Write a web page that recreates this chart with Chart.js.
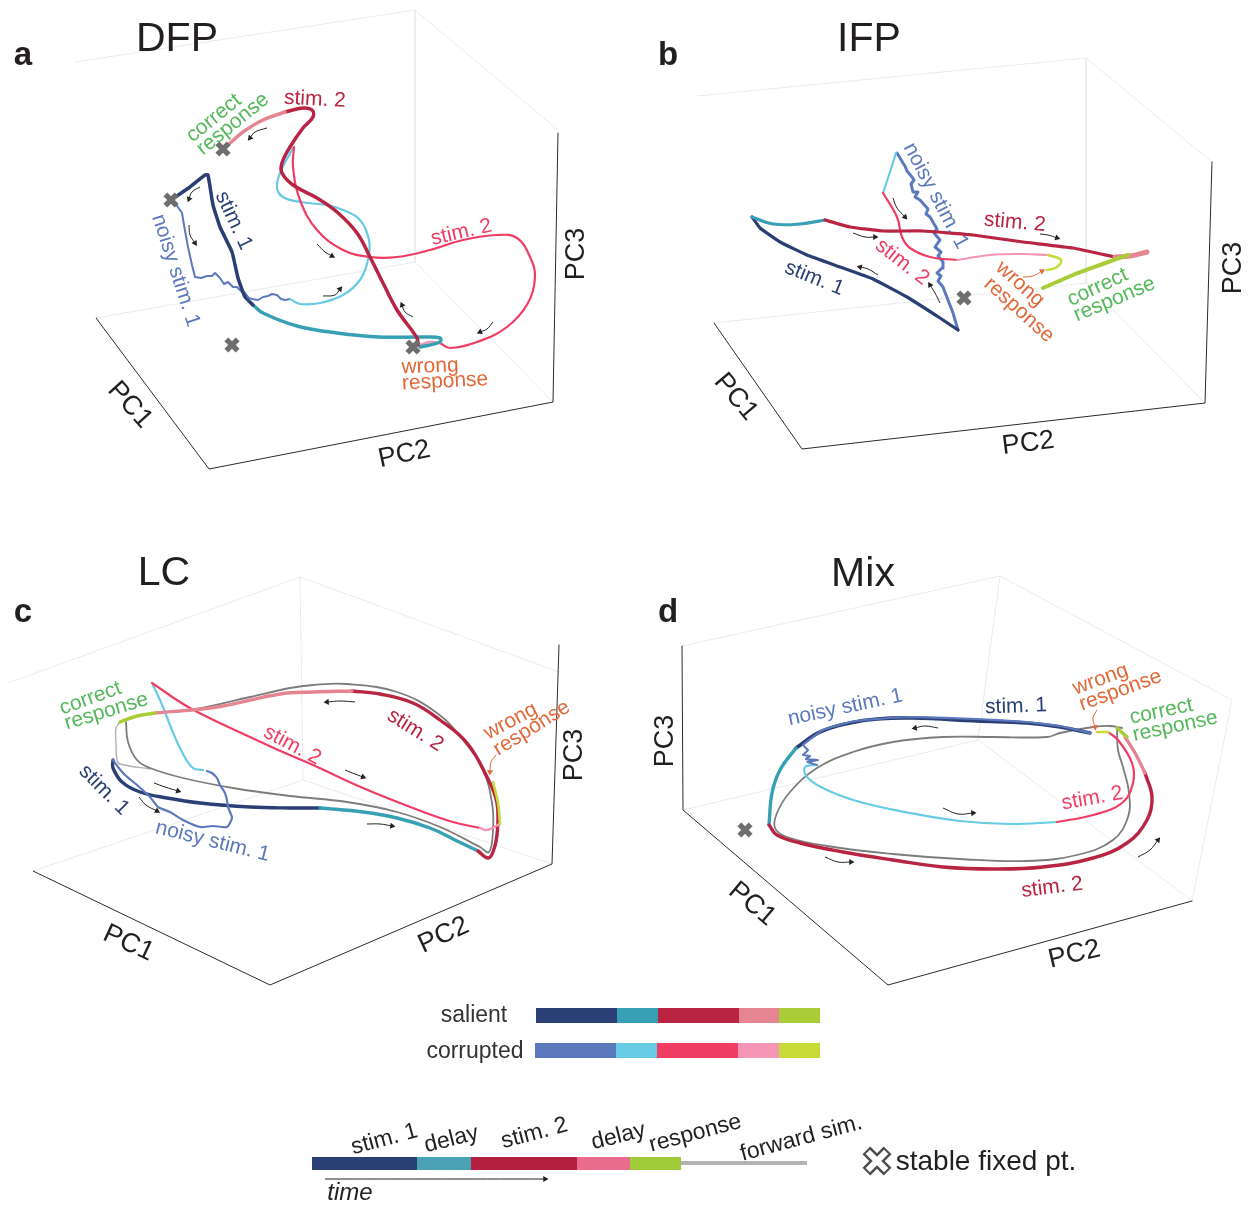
<!DOCTYPE html>
<html>
<head>
<meta charset="utf-8">
<title>Trajectories</title>
<script src="https://cdn.jsdelivr.net/npm/chart.js@4"></script>
<style>
  html, body { margin: 0; padding: 0; background: #fff; }
  canvas { display: block; }
</style>
</head>
<body>
<canvas id="fig" width="1249" height="1205"></canvas>
<script>
// colours for the task epochs
const SAL = ['#2a3f73', '#37a0b5', '#b82441', '#e58592', '#a9cc37'];
const COR = ['#5d79bd', '#67cbe6', '#f03d63', '#f595b6', '#c8da38'];
const TIMELINE = ['#2a3f73', '#4aa3b5', '#b51f40', '#e96c8d', '#a0cc3a'];
const GREEN = '#55b85a', ORANGE = '#e0693a', INK = '#231f20', GREY = '#7d7d7d', BOX = '#ebebeb';

// ---- panel a, DFP ----
const aStim1 = [[171,200],[190,187],[205,175],[208,175],[213,205],[220,227],[232,252],[238,278],[245,297],[253,305]];
const aDelay = [[253,305],[263,313],[297,326],[337,333],[380,337],[425,337],[440,338],[440,342],[420,347]];
const aStim2 = [[418,345],[417,338],[397,310],[383,283],[370,257],[357,233],[337,212],[317,198],[293,185],[282,173],[282,163],[290,147],[303,128],[313,117],[312,110],[303,108],[285,112]];
const aResp = [[285,112],[263,120],[243,132],[229,144]];
const aNoisy = [[175,203],[182,213],[184,225],[188,247],[192,265],[195,277],[201,278],[207,276],[212,276],[215,273],[220,278],[224,284],[228,282],[233,287],[237,287],[241,291],[245,293],[249,298],[252,299],[258,300],[263,297],[268,296],[272,294],[277,295],[281,299],[285,300],[290,299]];
const aCyan = [[290,299],[300,304],[320,303],[343,295],[360,280],[368,260],[369,240],[360,220],[343,210],[327,205],[300,202],[283,197],[277,188],[280,173],[293,148]];
const aRed = [[294,147],[293,167],[300,200],[317,230],[343,250],[370,257],[397,257],[430,250],[463,240],[497,235],[517,238],[530,257],[535,277],[528,303],[507,327],[477,342],[450,348],[440,343]];
const aPink = [[440,343],[430,342],[420,345]];
const aFixed = [[223,149],[171,200],[232,345],[413,347]];

// ---- panel b, IFP ----
const bStim1 = [[958,330],[940,318],[907,297],[873,279],[840,267],[807,255],[780,242],[760,228],[752,217]];
const bDelay = [[752,217],[773,224],[800,224],[825,220]];
const bStim2 = [[825,220],[850,227],[883,231],[923,231],[973,235],[1023,242],[1073,248],[1115,257]];
const bPink = [[1115,257],[1130,256],[1147,252]];
const bResp = [[1128,255],[1100,265],[1073,275],[1043,288]];
const bNoisy = [[958,330],[953,313],[948,300],[943,287],[938,281],[941,276],[937,273],[942,268],[943,262],[938,256],[941,252],[935,247],[940,240],[934,233],[937,229],[930,217],[926,214],[928,209],[920,200],[915,197],[918,192],[913,192],[911,184],[914,180],[912,177],[907,171],[905,166],[903,163],[897,153]];
const bCyan = [[896,153],[890,172],[883,193]];
const bRed = [[883,193],[897,217],[902,237],[910,248],[930,257],[957,260]];
const bPink2 = [[957,260],[990,255],[1023,254],[1048,255]];
const bYellow = [[1048,255],[1061,260],[1057,267],[1047,270]];
const bFixed = [[964,298]];

// ---- panel c, LC ----
const cStim1 = [[113,760],[113,768],[122,782],[140,792],[167,798],[200,803],[250,807],[290,808],[320,808]];
const cDelay = [[320,808],[363,812],[397,818],[430,828],[455,840],[478,851]];
const cStim2 = [[478,851],[488,858],[493,852],[497,835],[497,803],[487,777],[467,743],[440,720],[413,703],[380,694],[352,691]];
const cPink = [[352,691],[313,692],[280,694],[217,707],[155,713]];
const cResp = [[155,713],[137,716],[120,722]];
const cForward = [[126,722],[128,742],[137,760],[150,768],[183,778],[233,788],[290,796],[347,802],[397,812],[440,827],[480,847],[489,852],[493,830],[492,803],[483,770],[463,740],[437,713],[397,692],[347,684],[313,685],[290,688],[250,697],[190,710],[155,713]];
const cForward2 = [[120,722],[116,728],[116,743],[117,760],[120,764],[150,769]];
const cNoisy = [[113,760],[118,767],[125,775],[137,785],[150,797],[158,807],[170,812],[183,820],[200,827],[213,826],[227,827],[232,818],[230,812],[228,807],[227,800],[225,793],[220,785],[217,778],[212,773],[207,771]];
const cCyan = [[203,770],[193,768],[182,752],[172,730],[163,707],[153,685]];
const cRed = [[152,683],[190,708],[250,737],[285,753],[313,765],[363,788],[413,808],[453,822],[480,828]];
const cPink2 = [[480,828],[487,830],[500,824]];
const cYellow = [[500,824],[498,803],[493,782]];

// ---- panel d, Mix ----
const dStim1 = [[1090,733],[1060,727],[1027,723],[977,721],[913,718],[877,719],[850,723],[820,732],[796,748]];
const dDelay = [[796,748],[780,770],[772,793],[769,825]];
const dStim2 = [[769,825],[777,835],[800,843],[843,852],[893,860],[943,867],[993,869],[1043,867],[1093,858],[1127,843],[1147,820],[1152,797],[1145,773]];
const dPink = [[1145,773],[1135,753],[1125,737]];
const dResp = [[1127,737],[1117,728]];
const dForward = [[1117,728],[1118,750],[1123,767],[1129,793],[1128,817],[1113,840],[1077,855],[1027,861],[960,859],[893,854],[827,846],[787,837],[775,828],[777,813],[790,792],[817,768],[853,752],[893,742],[943,737],[993,737],[1047,737],[1060,733],[1093,727],[1110,726],[1122,728]];
const dNoisy = [[1090,733],[1060,726],[1027,722],[977,719],[913,717],[877,719],[850,722],[823,730],[803,745],[808,750],[803,755],[810,756],[806,759],[818,760],[807,762],[817,765]];
const dCyan = [[815,765],[805,767],[807,777],[827,790],[860,802],[910,813],[960,821],[1010,824],[1057,822]];
const dRed = [[1057,822],[1093,815],[1122,803],[1133,783],[1132,763],[1118,740],[1108,732]];
const dPink2 = [[1108,732],[1105,732]];
const dYellow = [[1108,732],[1097,732]];
const dFixed = [[745,830]];

// box edges, black then faint
const blackEdges = [
  [[96,318],[209,469],[553,402],[558,133]],
  [[714,323],[802,449],[1205,403],[1212,162]],
  [[33,871],[270,985],[552,864],[559,645]],
  [[682,646],[683,810],[888,985],[1192,901]]
];
const faintEdges = [
  [[75,62],[415,10],[558,130]], [[415,10],[415,262]], [[96,318],[415,262],[553,402]],
  [[697,96],[1086,58],[1212,162]], [[1086,58],[1086,283]], [[714,323],[1086,283],[1205,403]],
  [[8,683],[300,577],[559,672]], [[300,577],[303,780]], [[33,871],[303,780],[552,864]],
  [[682,646],[1000,576],[1232,700],[1192,901]], [[1000,576],[978,740]], [[683,810],[978,740],[1192,901]]
];

// little direction arrows
const blackArrows = [
  [[267,128],[255,132],[250,138]], [[200,187],[192,192],[189,199]], [[189,225],[190,235],[195,243]],
  [[317,244],[325,252],[332,256]], [[323,296],[335,295],[340,289]], [[413,317],[405,312],[402,305]], [[493,322],[487,329],[480,332]],
  [[893,198],[897,208],[905,217]], [[853,233],[865,237],[875,237]], [[878,275],[868,269],[860,267]], [[940,303],[935,293],[930,285]], [[1040,234],[1048,235],[1057,238]],
  [[154,783],[165,787],[178,791]], [[139,797],[146,805],[157,811]], [[355,702],[340,701],[327,702]], [[345,770],[355,774],[363,777]], [[367,824],[380,824],[392,826]],
  [[938,728],[925,726],[915,728]], [[943,808],[958,814],[973,813]], [[825,857],[838,862],[851,862]], [[1138,857],[1150,850],[1158,840]],
  [[325,1179],[430,1179],[545,1179]]
];
const orangeArrows = [
  [[1023,277],[1033,276],[1042,271]],
  [[496,755],[491,762],[490,772]],
  [[1097,710],[1093,718],[1095,727]]
];

// bars
const salientStops = [536,617,658,739,779,820];
const corruptedStops = [535,616,657,738,779,820];
const timelineStops = [312,417,471,577,630,681];
const forwardStops = [681,807];

const datasets = [];
function line(points, color, width, tension) {
  datasets.push({
    data: points, borderColor: color, borderWidth: width, tension: tension === undefined ? 0.4 : tension,
    showLine: true, pointRadius: 0, borderCapStyle: 'round', borderJoinStyle: 'round', order: -datasets.length
  });
}
function arrow(points, color) {
  const a = points[points.length - 2], b = points[points.length - 1];
  const rot = Math.atan2(b[1] - a[1], b[0] - a[0]) * 180 / Math.PI + 90;
  datasets.push({
    data: points, borderColor: color, backgroundColor: color, borderWidth: 1, tension: 0.4, showLine: true,
    pointStyle: 'triangle', pointRotation: rot, pointBorderWidth: 0,
    pointRadius: points.map((p, i) => i === points.length - 1 ? 3.5 : 0), order: -datasets.length
  });
}
function fixedPts(points) {
  datasets.push({
    data: points, showLine: false, pointStyle: 'crossRot', pointRadius: 8, pointBorderWidth: 5.5,
    pointBorderColor: '#6e6e6e', order: -datasets.length
  });
}
function bar(stops, y, colors, width) {
  for (let i = 0; i < stops.length - 1; i++) {
    datasets.push({
      data: [[stops[i], y], [stops[i + 1], y]], borderColor: colors[i], borderWidth: width, showLine: true,
      pointRadius: 0, borderCapStyle: 'butt', order: -datasets.length
    });
  }
}

faintEdges.forEach(e => line(e, BOX, 1, 0));
blackEdges.forEach(e => line(e, '#2b2b2b', 1, 0));

// a
line(aNoisy, COR[0], 2, 0); line(aCyan, COR[1], 2.2); line(aRed, COR[2], 2.2); line(aPink, COR[3], 2.5);
line(aDelay, SAL[1], 3.5); line(aStim1, SAL[0], 3.5, 0.12); line(aStim2, SAL[2], 3.5); line(aResp, SAL[3], 3.5);
// b
line(bNoisy, COR[0], 3, 0); line(bCyan, COR[1], 2.2, 0); line(bRed, COR[2], 2.2); line(bPink2, COR[3], 2.2); line(bYellow, COR[4], 2.5);
line(bStim1, SAL[0], 3.2, 0.1); line(bDelay, SAL[1], 3.2); line(bStim2, SAL[2], 3.2, 0.1);
line(bPink, SAL[3], 5); line(bResp, SAL[4], 4, 0.2);
// c
line(cForward2, '#b0b0b0', 1.4); line(cForward, GREY, 1.8);
line(cCyan, COR[1], 2.2); line(cRed, COR[2], 2.2);
line(cStim1, SAL[0], 3.4); line(cDelay, SAL[1], 3.4); line(cStim2, SAL[2], 3.4); line(cPink, SAL[3], 3.4); line(cResp, SAL[4], 3.4);
line(cPink2, COR[3], 2.5); line(cYellow, COR[4], 2.6); line(cNoisy, COR[0], 2.2, 0.2);
// d
line(dForward, GREY, 1.8);
line(dCyan, COR[1], 2.2); line(dRed, COR[2], 2.2); line(dPink2, COR[3], 2.2); line(dYellow, COR[4], 2.6);
line(dStim1, SAL[0], 3.6); line(dNoisy, COR[0], 2.2, 0.1); line(dDelay, SAL[1], 3.4); line(dStim2, SAL[2], 3.4); line(dPink, SAL[3], 3.4); line(dResp, SAL[4], 3.4);

blackArrows.forEach(a => arrow(a, '#222'));
orangeArrows.forEach(a => arrow(a, ORANGE));
fixedPts(aFixed); fixedPts(bFixed); fixedPts(dFixed);

bar(salientStops, 1015.5, SAL, 15);
bar(corruptedStops, 1050.5, COR, 15);
bar(forwardStops, 1163, ['#b3b3b3'], 4);
bar(timelineStops, 1163.5, TIMELINE, 13);

// legend cross: dark outline with a white core
datasets.push({ data: [[877,1161]], showLine: false, pointStyle: 'crossRot', pointRadius: 15, pointBorderWidth: 11, pointBorderColor: '#4d4d4d', order: -datasets.length });
datasets.push({ data: [[877,1161]], showLine: false, pointStyle: 'crossRot', pointRadius: 13, pointBorderWidth: 6, pointBorderColor: '#ffffff', order: -datasets.length });

// text, placed through the same scales
const texts = [];
function label(str, x, y, rot, size, color, style) {
  texts.push({ str, x, y, rot, size, color, style: style || '' });
}
const LAB = 21;
['a','b','c','d'].forEach((l, i) => label(l, [23,668,23,668][i], [54,54,611,611][i], 0, 33, INK, 'bold'));
label('DFP', 177, 38, 0, 41, INK); label('IFP', 869, 38, 0, 41, INK);
label('LC', 164, 572, 0, 41, INK); label('Mix', 863, 573, 0, 41, INK);

label('PC1', 131, 404, 48, 27, INK); label('PC2', 404, 453, -12, 27, INK); label('PC3', 575, 254, -90, 27, INK);
label('PC1', 737, 396, 50, 27, INK); label('PC2', 1028, 442, -7, 27, INK); label('PC3', 1232, 268, -90, 27, INK);
label('PC1', 129, 942, 25, 27, INK); label('PC2', 443, 934, -25, 27, INK); label('PC3', 573, 755, -90, 27, INK);
label('PC3', 664, 741, -90, 27, INK); label('PC1', 753, 903, 40, 27, INK); label('PC2', 1074, 953, -13, 27, INK);

label('correct', 213, 117, -39, LAB, GREEN); label('response', 232, 123, -39, LAB, GREEN);
label('stim. 2', 315, 98, 3, LAB, SAL[2]); label('stim. 1', 235, 220, 65, LAB, SAL[0]);
label('noisy stim. 1', 177, 270, 72, LAB, COR[0]); label('stim. 2', 461, 231, -13, LAB, COR[2]);
label('wrong', 430, 365, -2, LAB, ORANGE); label('response', 445, 380, -3, LAB, ORANGE);

label('noisy stim. 1', 937, 195, 62, LAB, COR[0]); label('stim. 2', 1015, 221, 5, LAB, SAL[2]);
label('stim. 2', 903, 261, 38, LAB, COR[2]); label('stim. 1', 815, 277, 22, LAB, SAL[0]);
label('wrong', 1021, 283, 42, LAB, ORANGE); label('response', 1020, 309, 42, LAB, ORANGE);
label('correct', 1097, 286, -25, LAB, GREEN); label('response', 1114, 298, -23, LAB, GREEN);

label('correct', 90, 697, -20, LAB, GREEN); label('response', 106, 710, -17, LAB, GREEN);
label('stim. 2', 416, 729, 32, LAB, SAL[2]); label('stim. 2', 293, 744, 28, LAB, COR[2]);
label('stim. 1', 105, 789, 45, LAB, SAL[0]); label('noisy stim. 1', 213, 840, 14, LAB, COR[0]);
label('wrong', 510, 720, -28, LAB, ORANGE); label('response', 531, 727, -32, LAB, ORANGE);

label('noisy stim. 1', 845, 706, -12, LAB, COR[0]); label('stim. 1', 1016, 705, -2, LAB, SAL[0]);
label('wrong', 1100, 678, -20, LAB, ORANGE); label('response', 1120, 689, -20, LAB, ORANGE);
label('correct', 1161, 710, -12, LAB, GREEN); label('response', 1175, 725, -12, LAB, GREEN);
label('stim. 2', 1092, 797, -10, LAB, COR[2]); label('stim. 2', 1052, 886, -7, LAB, SAL[2]);

label('salient', 474, 1014, 0, 23, '#333'); label('corrupted', 475, 1050, 0, 23, '#333');
label('stim. 1', 384, 1138, -15, 23, INK); label('delay', 451, 1138, -14, 23, INK);
label('stim. 2', 534, 1132, -15, 23, INK); label('delay', 618, 1135, -14, 23, INK);
label('response', 695, 1132, -15, 23, INK); label('forward sim.', 801, 1137, -15, 23, INK);
label('time', 350, 1192, 0, 24, INK, 'italic');
label('stable fixed pt.', 986, 1161, 0, 28, INK);

const textPlugin = {
  id: 'figText',
  afterDatasetsDraw(chart) {
    const ctx = chart.ctx;
    texts.forEach(t => {
      ctx.save();
      // canvas 'middle' sits a touch high for this font
      ctx.translate(chart.scales.x.getPixelForValue(t.x), chart.scales.y.getPixelForValue(t.y));
      ctx.rotate(t.rot * Math.PI / 180);
      ctx.font = (t.style ? t.style + ' ' : '') + t.size + 'px "Liberation Sans", Arial, sans-serif';
      ctx.fillStyle = t.color;
      ctx.textAlign = 'center';
      ctx.textBaseline = 'middle';
      ctx.fillText(t.str, 0, 1.5);
      ctx.restore();
    });
  }
};

new Chart(document.getElementById('fig').getContext('2d'), {
  type: 'scatter',
  data: { datasets: datasets },
  plugins: [textPlugin],
  options: {
    responsive: false,
    animation: false,
    layout: { padding: 0, autoPadding: false },
    plugins: { legend: { display: false }, tooltip: { enabled: false } },
    scales: {
      x: { type: 'linear', min: 0, max: 1249, display: false },
      y: { type: 'linear', min: 0, max: 1205, reverse: true, display: false }
    }
  }
});
</script>
</body>
</html>
